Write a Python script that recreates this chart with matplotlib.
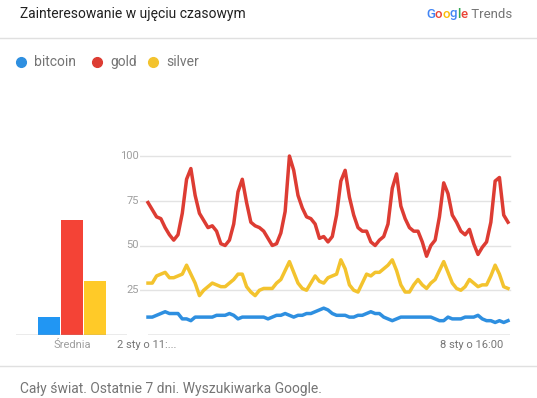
import numpy as np
import matplotlib
matplotlib.use("Agg")
import matplotlib.pyplot as plt

plt.rcParams['font.family'] = ['Roboto', 'DejaVu Sans']

# values every 2 hours
bitcoin = [10, 10, 11, 12, 13, 12, 12, 12, 9, 9, 8, 10, 10, 10, 10, 10, 11, 11, 11, 12, 11,
           9, 10, 10, 10, 10, 10, 10, 9, 10, 11, 11, 12, 11, 10, 11, 11, 12, 12, 13, 14,
           15, 14, 12, 11, 11, 11, 10, 10, 11, 11, 12, 13, 12, 12, 10, 9, 8, 9, 10, 10,
           10, 10, 10, 10, 10, 10, 9, 8, 8, 10, 9, 9, 9, 10, 10, 10, 11, 9, 8, 8, 7, 8, 7, 8]
gold = [74, 70, 66, 65, 60, 56, 53, 56, 68, 87, 93, 78, 68, 64, 60, 61, 58, 51, 50, 53, 62,
        80, 87, 74, 63, 61, 60, 58, 54, 50, 51, 57, 69, 100, 92, 78, 71, 66, 65, 62, 54,
        55, 52, 55, 67, 86, 92, 77, 67, 60, 58, 58, 52, 50, 53, 55, 62, 82, 90, 72, 65,
        60, 58, 58, 52, 44, 50, 53, 66, 85, 79, 67, 63, 58, 56, 59, 51, 45, 49, 52, 63, 86, 88, 67, 63]
silver = [29, 29, 33, 34, 35, 32, 32, 33, 34, 39, 34, 29, 22, 25, 27, 29, 28, 27, 27, 29, 31,
          34, 34, 27, 24, 22, 25, 26, 26, 26, 29, 31, 36, 41, 35, 29, 26, 25, 29, 33, 30,
          29, 32, 33, 34, 42, 37, 28, 25, 24, 29, 34, 33, 35, 35, 37, 39, 42, 36, 28, 24,
          24, 28, 31, 28, 26, 29, 31, 36, 41, 35, 29, 26, 25, 27, 31, 29, 27, 28, 28, 33, 39, 34, 27, 26]
names = ['bitcoin', 'gold', 'silver']
averages = [10, 64, 30]
yticks = [25, 50, 75, 100]
start_label = "2 sty o 11:..."
end_label = "8 sty o 16:00"

line_colors = ['#2e8fe0', '#dd3c33', '#f3c32e']
bar_colors = ['#2196f3', '#f44336', '#ffca28']
grey = '#757575'
light = '#9e9e9e'

W, H = 537, 398
fig = plt.figure(figsize=(W / 100, H / 100), dpi=100)
fig.patch.set_facecolor('white')


def fx(px):
    return px / W


def fy(py):
    return 1 - py / H


# header
fig.text(fx(20), fy(14), "Zainteresowanie w ujęciu czasowym", fontsize=10,
         color='#212121', va='center', ha='left')
fig.add_artist(plt.Line2D([0, 1], [fy(38), fy(38)], color='#e0e0e0', lw=1))
fig.add_artist(plt.Line2D([0, 1], [fy(366), fy(366)], color='#e0e0e0', lw=1))

# google trends logo, letter by letter
renderer = fig.canvas.get_renderer()
logo = [('G', '#4285f4'), ('o', '#ea4335'), ('o', '#fbbc05'), ('g', '#4285f4'),
        ('l', '#34a853'), ('e', '#ea4335'), (' Trends', grey)]
xpos = fx(426)
for s, c in logo:
    t = fig.text(xpos, fy(14), s, fontsize=9.5, color=c, va='center', ha='left',
                 fontweight='medium' if c != grey else 'normal')
    bb = t.get_window_extent(renderer)
    xpos += bb.width / W

# legend
legend_x = [21, 97, 153]
for name, c, lx in zip(names, line_colors, legend_x):
    fig.add_artist(plt.Line2D([fx(lx)], [fy(62)], marker='o', ms=7, color=c, lw=0))
    fig.text(fx(lx + 13), fy(62), name, fontsize=10, color=grey, va='center', ha='left')

# footer
fig.text(fx(20), fy(389), "Cały świat. Ostatnie 7 dni. Wyszukiwarka Google.", fontsize=10,
         color=grey, va='center', ha='left')

# average bars
y0, y100 = 335, 156
axb = fig.add_axes([fx(16), fy(y0), fx(127) - fx(16), (y0 - y100) / H])
axb.bar(range(3), averages, width=0.96, color=bar_colors)
axb.set_xlim(-1.43, 3.39)
axb.set_ylim(0, 100)
axb.axis('off')
axb.axhline(0, color=light, lw=1)
fig.text(fx(72), fy(345), "Średnia", fontsize=8, color=light, ha='center', va='center')

# time series
n = len(gold)
x = np.arange(n)
axl = fig.add_axes([fx(148), fy(y0), fx(510) - fx(148), (y0 - y100) / H])
axl.set_xlim(0, (n - 1) * 362 / 360)
axl.set_ylim(0, 100)
axl.axis('off')
for v in yticks:
    axl.plot([-10 / 360 * (n - 1), (n - 1) * 362 / 360], [v, v], color='#e3e3e3', lw=1,
             clip_on=False, zorder=0)
    axl.text(-9 / 360 * (n - 1), v, str(v), fontsize=8, color=light, ha='right', va='center',
             bbox=dict(facecolor='white', edgecolor='none', pad=0.5))
axl.axhline(0, color=light, lw=1)
for series, c in zip([bitcoin, gold, silver], line_colors):
    axl.plot(x, series, color=c, lw=2.5, clip_on=False, solid_joinstyle='round')

fig.text(fx(117), fy(345), start_label, fontsize=8, color=grey, ha='left', va='center')
fig.text(fx(503), fy(345), end_label, fontsize=8, color=grey, ha='right', va='center')

fig.savefig('out.png', dpi=100, facecolor='white')
